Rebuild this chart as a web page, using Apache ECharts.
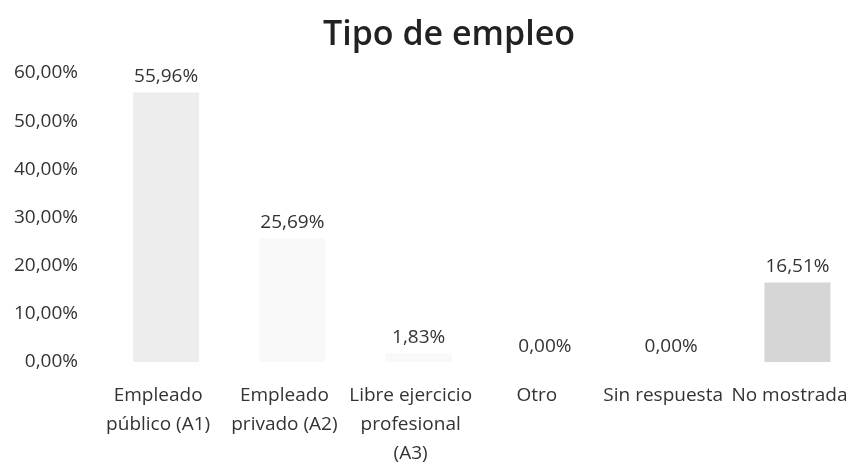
<!DOCTYPE html>
<html>
<head>
<meta charset="utf-8">
<script src="https://cdn.jsdelivr.net/npm/echarts@6/dist/echarts.min.js"></script>
<style>
  html, body { margin: 0; padding: 0; background: #ffffff; }
  #chart { width: 866px; height: 473px; }
</style>
</head>
<body>
<div id="chart"></div>
<script>
// Categorías del tipo de empleo
const categories = [
  'Empleado\npúblico (A1)',
  'Empleado\nprivado (A2)',
  'Libre ejercicio\nprofesional\n(A3)',
  'Otro',
  'Sin respuesta',
  'No mostrada'
];
// Porcentaje de respuestas por categoría
const values = [55.96, 25.69, 1.83, 0.00, 0.00, 16.51];
// Tono de relleno de cada barra
const barColors = ['#ededed', '#f9f9f9', '#f9f9f9', '#f9f9f9', '#f9f9f9', '#d6d6d6'];

const fmt = v => v.toFixed(2).replace('.', ',') + '%';
const FONT = 'Open Sans';

const chart = echarts.init(document.getElementById('chart'));
chart.setOption({
  backgroundColor: '#ffffff',
  animation: false,
  title: {
    text: 'Tipo de empleo',
    left: 318,
    top: 13,
    textStyle: { fontFamily: FONT, fontSize: 34, fontWeight: 600, color: '#222' }
  },
  grid: { left: 103, right: 0, top: 73, bottom: 111, containLabel: false },
  xAxis: {
    type: 'category',
    data: categories,
    axisLine: { show: false },
    axisTick: { show: false },
    axisLabel: {
      interval: 0,
      margin: 19,
      padding: [0, 16, 0, 0],
      fontFamily: FONT,
      fontSize: 19,
      lineHeight: 29,
      color: '#333'
    }
  },
  yAxis: {
    type: 'value',
    min: 0,
    max: 60,
    interval: 10,
    splitLine: { show: false },
    axisLine: { show: false },
    axisTick: { show: false },
    axisLabel: {
      margin: 25,
      fontFamily: FONT,
      fontSize: 19,
      color: '#333',
      formatter: v => fmt(v)
    }
  },
  series: [{
    type: 'bar',
    barWidth: 66,
    data: values.map((v, i) => ({ value: v, itemStyle: { color: barColors[i] } })),
    label: {
      show: true,
      position: 'top',
      distance: 6,
      fontFamily: FONT,
      fontSize: 19,
      color: '#333',
      formatter: p => fmt(p.value)
    }
  }]
});
</script>
</body>
</html>
